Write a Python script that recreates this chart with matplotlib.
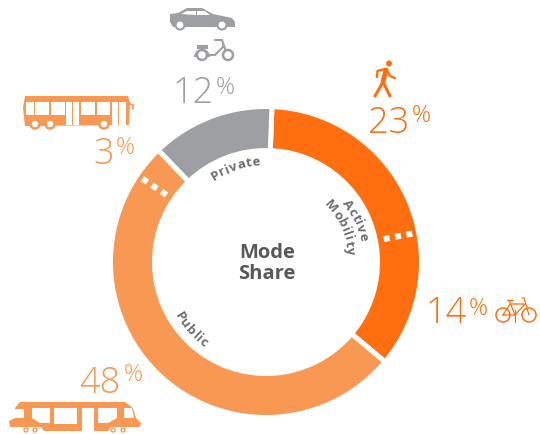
import numpy as np
import matplotlib
matplotlib.use('Agg')
import matplotlib.pyplot as plt
from matplotlib.patches import Wedge, Circle, Polygon, Rectangle

# main ring, shares as drawn in the picture
ring_labels = ['Active Mobility', 'Public', 'Private']
ring_shares = [35.5, 51.7, 12.8]
# share labels round the ring
share_values = ['23', '14', '48', '3', '12']
# where the dotted splits sit, degrees clockwise from the top
split_angles = [79, 304]

ORANGE = '#FF6F0F'
LIGHT = '#F89853'
GREY = '#9D9FA2'
TXT = '#6D6E71'
ring_colors = [ORANGE, LIGHT, GREY]

plt.rcParams['font.family'] = ['Open Sans', 'DejaVu Sans']

fig = plt.figure(figsize=(5.4, 4.34), dpi=100)
ax = fig.add_axes([0, 0, 1, 1])
ax.set_xlim(0, 540)
ax.set_ylim(434, 0)
ax.axis('off')

cx, cy = 266, 262

# y axis is flipped so wedge angles run clockwise, -90 is the top
start = 2.2
for share, col in zip(ring_shares, ring_colors):
    sweep = share * 3.6
    ax.add_patch(Wedge((cx, cy), 155.5, start - 90, start + sweep - 90, width=44,
                       facecolor=col, edgecolor='white', linewidth=3.6))
    start += sweep


def polar(r, a):
    t = np.radians(a - 90)
    return cx + r * np.cos(t), cy + r * np.sin(t)


for a in split_angles:
    for r in [123, 134.5, 146]:
        x, y = polar(r, a)
        ax.add_patch(Rectangle((x - 3, y - 3), 6, 6, angle=a, rotation_point='center',
                               facecolor='white', edgecolor='none', zorder=3))


def curved(s, r, mid, size=9.5, spacing=0.6, bottom=False):
    # one text per letter, along the arc
    rend = fig.canvas.get_renderer()
    widths = []
    for ch in s:
        t = ax.text(0, 0, ch, fontsize=size, fontweight='bold')
        widths.append(t.get_window_extent(rend).width + spacing)
        t.remove()
    total = sum(widths)
    pos = -total / 2
    for ch, w in zip(s, widths):
        d = np.degrees((pos + w / 2) / r)
        pos += w
        a = mid - d if bottom else mid + d
        x, y = polar(r, a)
        rot = 180 - a if bottom else -a
        ax.text(x, y, ch, fontsize=size, fontweight='bold', color=TXT, rotation=rot,
                ha='center', va='center', rotation_mode='anchor')


curved('Private', 100, 342)
curved('Active', 100, 65)
curved('Mobility', 85, 65)
curved('Public', 102, 228, bottom=True)

ax.text(cx + 1, 253, 'Mode', fontsize=14.5, fontweight='bold', color='#58595B', ha='center', va='center')
ax.text(cx + 1, 274, 'Share', fontsize=14.5, fontweight='bold', color='#58595B', ha='center', va='center')

# percent numbers: x of number, baseline, x and baseline of the % sign
spots = [(368, 133, 412, 122, ORANGE), (426, 323, 469, 315, ORANGE),
         (79, 393, 124, 381, LIGHT), (93, 164, 116, 154, LIGHT),
         (173, 103, 216, 94, GREY)]
for v, (x, y, px, py, col) in zip(share_values, spots):
    ax.text(x, y, v, fontsize=26, color=col, fontweight='light', ha='left', va='baseline')
    ax.text(px, py, '%', fontsize=17, color=col, fontweight='light', ha='left', va='baseline')


def line(pts, col, lw):
    xs, ys = zip(*pts)
    ax.plot(xs, ys, color=col, lw=lw, solid_capstyle='round', solid_joinstyle='round')


def ring(x, y, r, col, lw=1.3, fill='white'):
    ax.add_patch(Circle((x, y), r, facecolor=fill, edgecolor=col, linewidth=lw, zorder=4))


# car
ax.add_patch(Polygon([(170, 14), (178, 13), (187, 8), (202, 8), (213, 14), (232, 18), (235, 22),
                      (235, 27), (173, 27), (170, 22)], facecolor=GREY, edgecolor='none'))
ax.add_patch(Polygon([(181, 14), (187, 11), (196, 11), (196, 15)], facecolor='white', edgecolor='none'))
ax.add_patch(Polygon([(197, 11), (205, 11), (210, 15), (197, 15)], facecolor='white', edgecolor='none'))
ring(180, 25, 4.5, GREY, 1.5)
ring(222, 25, 4.5, GREY, 1.5)

# scooter
ring(202, 55, 5, GREY, 1.8)
ring(228, 55, 5, GREY, 1.8)
ax.add_patch(Rectangle((197, 45), 11, 3.5, facecolor=GREY, edgecolor='none'))
ax.add_patch(Wedge((202, 57), 8, 180, 360, width=3, facecolor=GREY, edgecolor='none'))
line([(207, 55), (215, 55), (224, 46), (222, 40), (215, 40)], GREY, 1.5)
line([(223, 44), (228, 55)], GREY, 1.5)

# bus
ax.add_patch(Polygon([(25, 96), (128, 96), (130, 103), (129, 125), (25, 126), (23, 108)],
                     facecolor=LIGHT, edgecolor='none'))
for x0, x1, y1 in [(26, 34, 115), (35, 49, 115), (51, 65, 115), (66, 72, 125), (73, 79, 125),
                   (81, 95, 115), (97, 110, 115), (112, 118, 125), (119, 126, 125)]:
    ax.add_patch(Rectangle((x0, 102), x1 - x0, y1 - 102, facecolor='white', edgecolor='none'))
line([(128, 103), (133, 105), (133, 109)], LIGHT, 1.2)
for x in [35, 50, 104]:
    ring(x, 124, 4.5, LIGHT, 1.8)

# walker
ax.add_patch(Circle((389, 63.5), 3, facecolor=ORANGE, edgecolor='none'))
line([(386, 70), (383, 82)], ORANGE, 3.5)
line([(383, 82), (375, 96)], ORANGE, 2.2)
line([(383, 82), (390, 96)], ORANGE, 2.2)
line([(385, 69), (377.5, 71), (377, 77)], ORANGE, 1.7)
line([(387, 70), (390, 76), (395, 78)], ORANGE, 1.7)

# bike
ring(503, 315, 7, ORANGE, 1.1, 'none')
ring(529, 315, 7, ORANGE, 1.1, 'none')
line([(503, 315), (510, 304), (525, 304), (515, 315), (503, 315)], ORANGE, 0.9)
line([(509, 300), (515, 315)], ORANGE, 0.9)
line([(515, 310), (515, 322)], ORANGE, 0.9)
line([(522, 298), (524, 298), (529, 315)], ORANGE, 0.9)
line([(507, 300), (513, 300)], ORANGE, 0.9)

# tram
ax.add_patch(Polygon([(15, 408), (20, 402), (125, 402), (133, 408), (136, 418), (141, 423),
                      (140, 427), (111, 427), (108, 431), (44, 431), (41, 427), (10, 427), (9, 421),
                      (15, 418)], facecolor=LIGHT, edgecolor='none'))
for pts in [[(32, 408), (50, 408), (50, 423), (40, 423), (32, 418)],
            [(54, 408), (77, 408), (77, 424), (54, 424)],
            [(82, 408), (94, 408), (94, 431), (82, 431)],
            [(98, 408), (117, 408), (117, 418), (108, 423), (98, 423)],
            [(124, 408), (132, 408), (134, 418), (124, 418)],
            [(14, 409), (24, 409), (24, 418), (14, 418)]]:
    ax.add_patch(Polygon(pts, facecolor='white', edgecolor='none'))
for x in [26, 35, 113, 123]:
    ring(x, 430, 2, LIGHT, 1.0)

plt.savefig('out.png', dpi=100)
